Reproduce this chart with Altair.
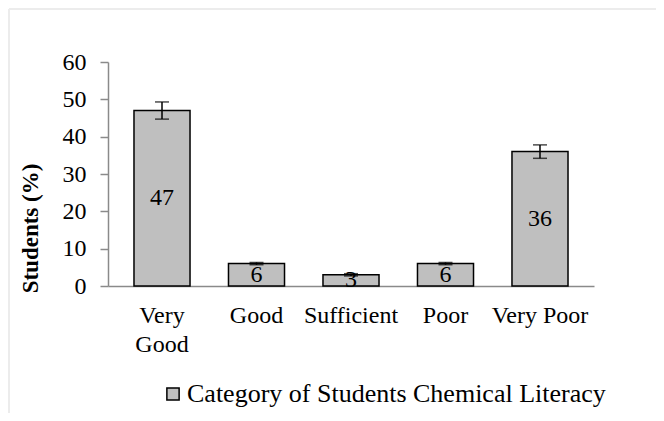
import altair as alt
import pandas as pd

categories = ["Very Good", "Good", "Sufficient", "Poor", "Very Poor"]
values = [47, 6, 3, 6, 36]
errors = [2.3, 0.3, 0.3, 0.3, 1.8]
series_name = "Category of Students Chemical Literacy"
y_ticks = [0, 10, 20, 30, 40, 50, 60]

df = pd.DataFrame({"cat": categories, "val": values, "err": errors})
df["lo"] = df["val"] - df["err"]
df["hi"] = df["val"] + df["err"]
df["mid"] = df["val"] / 2
df["series"] = series_name

FONT = "Liberation Serif"
GRAY = "#8a8a8a"
FS = 24

x_enc = alt.X(
    "cat:N",
    sort=categories,
    scale=alt.Scale(paddingInner=0.407, paddingOuter=0.275),
    axis=alt.Axis(
        title=None,
        labelAngle=0,
        labelFont=FONT,
        labelFontSize=FS,
        labelColor="black",
        labelOverlap=False,
        labelLimit=0,
        ticks=False,
        domainColor=GRAY,
        domainWidth=1.5,
        labelPadding=17,
        labelBaseline="top",
        labelLineHeight=29,
        labelExpr="datum.label == 'Very Good' ? ['Very', 'Good'] : datum.label",
    ),
)

y_scale = alt.Scale(domain=[0, 60], nice=False)

y_axis = alt.Axis(
    values=y_ticks,
    tickCount=7,
    grid=False,
    title="Students (%)",
    titleFont=FONT,
    titleFontSize=23,
    titleFontWeight="bold",
    titleColor="black",
    titleAngle=270,
    titleAlign="center",
    titleBaseline="middle",
    titleX=-78,
    titleY=166,
    labelFont=FONT,
    labelFontSize=FS,
    labelColor="black",
    labelOverlap=False,
    labelPadding=14,
    tickSize=8,
    tickColor=GRAY,
    tickWidth=1.5,
    domainColor=GRAY,
    domainWidth=1.5,
)

base = alt.Chart(df)

bars = base.mark_bar(stroke="black", strokeWidth=1.5).encode(
    x=x_enc,
    y=alt.Y("val:Q", scale=y_scale, axis=y_axis),
    color=alt.Color(
        "series:N",
        scale=alt.Scale(range=["#bfbfbf"]),
        legend=alt.Legend(
            title=None,
            orient="none",
            legendX=52,
            legendY=319,
            symbolType="square",
            symbolSize=150,
            symbolStrokeColor="black",
            symbolStrokeWidth=1.5,
            symbolOpacity=1,
            labelFont=FONT,
            labelFontSize=26,
            labelColor="black",
            labelLimit=0,
            labelOffset=1,
        ),
    ),
)

err_rule = base.mark_rule(color="black", strokeWidth=1.5).encode(
    x=alt.X("cat:N", sort=categories),
    y=alt.Y("lo:Q", scale=y_scale, axis=y_axis),
    y2="hi:Q",
)
err_lo = base.mark_tick(color="black", thickness=1.5, size=14).encode(
    x=alt.X("cat:N", sort=categories), y=alt.Y("lo:Q", scale=y_scale, axis=y_axis)
)
err_hi = base.mark_tick(color="black", thickness=1.5, size=14).encode(
    x=alt.X("cat:N", sort=categories), y=alt.Y("hi:Q", scale=y_scale, axis=y_axis)
)

labels = base.mark_text(font=FONT, fontSize=FS, color="black", baseline="middle").encode(
    x=alt.X("cat:N", sort=categories),
    y=alt.Y("mid:Q", scale=y_scale, axis=y_axis),
    text="val:Q",
)

frame_df = pd.DataFrame({"k": [0]})
frame_top = alt.Chart(frame_df).mark_rule(color="#ececec", strokeWidth=2).encode(
    x=alt.value(-99), x2=alt.value(700), y=alt.value(-53)
)
frame_left = alt.Chart(frame_df).mark_rule(color="#ececec", strokeWidth=2).encode(
    x=alt.value(-99), y=alt.value(-53), y2=alt.value(400)
)

chart = (
    alt.layer(frame_top, frame_left, bars, err_rule, err_lo, err_hi, labels)
    .properties(
        width=486,
        height=224,
        autosize=alt.AutoSizeParams(type="none"),
        padding={"left": 100, "top": 54, "right": 62, "bottom": 127},
        background="white",
    )
    .configure_view(stroke=None)
)

chart.save("out.html", embed_options={"renderer": "svg", "actions": False})
